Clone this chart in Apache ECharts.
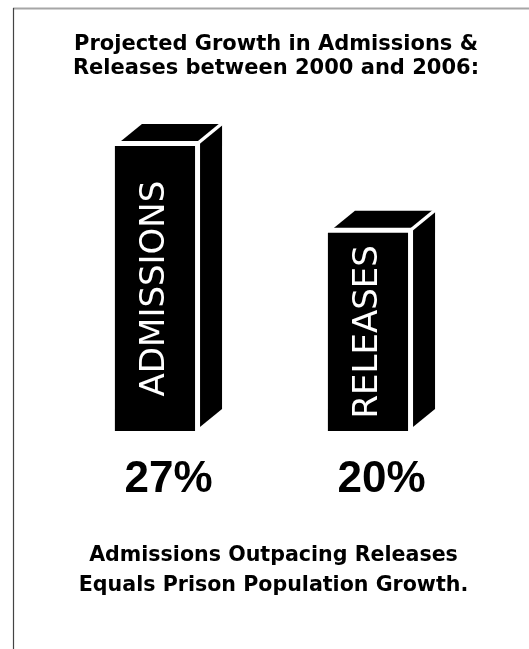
<!DOCTYPE html>
<html>
<head>
<meta charset="utf-8">
<script src="https://cdn.jsdelivr.net/npm/echarts@6/dist/echarts.min.js"></script>
<style>
html,body{margin:0;padding:0;background:#fff;}
#chart{width:529px;height:649px;}
</style>
</head>
<body>
<div id="chart"></div>
<script>
const categories = ['ADMISSIONS', 'RELEASES'];
const growthValues = [27, 20];
const valueLabels = ['27%', '20%'];
const titleLines = ['Projected Growth in Admissions &', 'Releases between 2000 and 2006:'];
const footerLines = ['Admissions Outpacing Releases', 'Equals Prison Population Growth.'];

const AXIS_MIN = 4;
const chart = echarts.init(document.getElementById('chart'), null, {renderer: 'canvas'});

function renderBox(params, api) {
  const idx = api.value(0);
  const val = api.value(1);
  const top = api.coord([idx, val]);
  const base = api.coord([idx, AXIS_MIN]);
  const band = api.size([1, 0])[0];
  const w = band * 0.376;
  const cx = top[0];
  const x0 = cx - w / 2, x1 = cx + w / 2;
  const yt = top[1], yb = base[1];
  const dx = 27, dy = -22, g = 5;
  return {
    type: 'group',
    children: [
      {type: 'polygon', shape: {points: [[x0, yb], [x0, yt], [x0 + dx, yt + dy], [x1 + dx, yt + dy], [x1 + dx, yb + dy], [x1, yb]]}, style: {fill: '#000'}},
      {type: 'rect', shape: {x: x0, y: yt - g, width: x1 + g - x0, height: yb - yt + g}, style: {fill: '#fff'}},
      {type: 'rect', shape: {x: x0, y: yt, width: w, height: yb - yt}, style: {fill: '#000'}},
      {type: 'line', shape: {x1: x1 + g / 2, y1: yt - g / 2, x2: x1 + dx + 3, y2: yt + dy - 3}, style: {stroke: '#fff', lineWidth: 3.5}},
      {type: 'text', x: cx, y: (yt + yb) / 2, rotation: Math.PI / 2,
        style: {text: categories[idx], fill: '#fff', fontSize: 34, fontFamily: 'DejaVu Sans', fontWeight: 'normal', textAlign: 'center', textVerticalAlign: 'middle'}},
      {type: 'text', x: cx + dx / 2, y: yb + 49,
        style: {text: valueLabels[idx], fill: '#000', fontSize: 44, fontFamily: 'Liberation Sans', fontWeight: 'bold', textAlign: 'center', textVerticalAlign: 'middle'}}
    ]
  };
}

function textStyle(size) {
  return {fill: '#000', fontSize: size, fontFamily: 'DejaVu Sans', fontWeight: 'bold', textAlign: 'center', textVerticalAlign: 'middle'};
}

chart.setOption({
  animation: false,
  backgroundColor: '#fff',
  grid: {left: 48.5, right: 54.5, top: 146, bottom: 218},
  xAxis: {type: 'category', data: categories, show: false},
  yAxis: {type: 'value', min: AXIS_MIN, max: 27, show: false},
  graphic: [
    {type: 'line', shape: {x1: 13, y1: 8.5, x2: 529, y2: 8.5}, style: {stroke: '#a6a6a6', lineWidth: 2}},
    {type: 'line', shape: {x1: 13.5, y1: 8, x2: 13.5, y2: 649}, style: {stroke: '#444', lineWidth: 1.2}},
    {type: 'text', x: 276, y: 45, style: Object.assign({text: titleLines[0]}, textStyle(21))},
    {type: 'text', x: 276, y: 69, style: Object.assign({text: titleLines[1]}, textStyle(21))},
    {type: 'text', x: 273.5, y: 556, style: Object.assign({text: footerLines[0]}, textStyle(20.6))},
    {type: 'text', x: 273.5, y: 586, style: Object.assign({text: footerLines[1]}, textStyle(20.6))}
  ],
  series: [{
    type: 'custom',
    renderItem: renderBox,
    data: categories.map((c, i) => [i, growthValues[i]])
  }]
});
</script>
</body>
</html>
